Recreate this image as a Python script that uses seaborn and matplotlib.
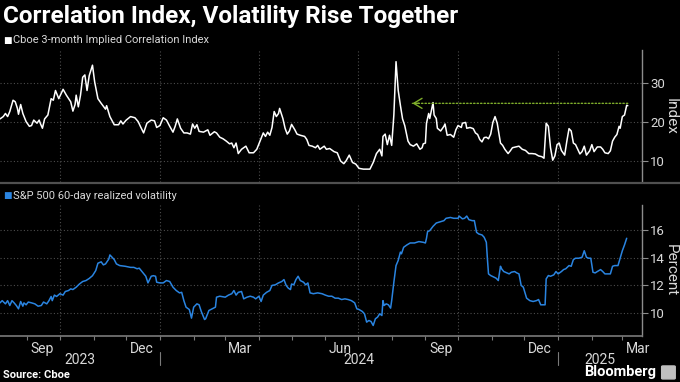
import numpy as np
import pandas as pd
import matplotlib
matplotlib.use("Agg")
import matplotlib.pyplot as plt
import matplotlib.dates as mdates
import matplotlib.transforms as mtrans
from matplotlib.patches import FancyBboxPatch
import seaborn as sns

# Cboe 3-month implied correlation index
corr_dates = [
    "2023-08-07", "2023-08-10", "2023-08-12", "2023-08-14", "2023-08-16", "2023-08-19", "2023-08-21",
    "2023-08-23", "2023-08-24", "2023-08-26", "2023-08-28", "2023-08-31", "2023-09-03", "2023-09-05",
    "2023-09-07", "2023-09-10", "2023-09-12", "2023-09-13", "2023-09-15", "2023-09-17", "2023-09-20",
    "2023-09-23", "2023-09-25", "2023-09-27", "2023-09-30", "2023-10-04", "2023-10-07", "2023-10-11",
    "2023-10-13", "2023-10-15", "2023-10-16", "2023-10-18", "2023-10-20", "2023-10-22", "2023-10-24",
    "2023-10-26", "2023-10-28", "2023-10-31", "2023-11-02", "2023-11-05", "2023-11-08", "2023-11-12",
    "2023-11-13", "2023-11-16", "2023-11-20", "2023-11-24", "2023-11-26", "2023-11-28", "2023-12-01",
    "2023-12-05", "2023-12-09", "2023-12-12", "2023-12-14", "2023-12-17", "2023-12-20", "2023-12-24",
    "2023-12-27", "2023-12-29", "2024-01-01", "2024-01-04", "2024-01-07", "2024-01-10", "2024-01-13",
    "2024-01-15", "2024-01-17", "2024-01-20", "2024-01-23", "2024-01-26", "2024-01-29", "2024-01-31",
    "2024-02-02", "2024-02-04", "2024-02-06", "2024-02-10", "2024-02-14", "2024-02-16", "2024-02-20",
    "2024-02-22", "2024-02-25", "2024-02-28", "2024-03-02", "2024-03-05", "2024-03-07", "2024-03-09",
    "2024-03-11", "2024-03-13", "2024-03-16", "2024-03-20", "2024-03-23", "2024-03-27", "2024-03-30",
    "2024-04-02", "2024-04-05", "2024-04-07", "2024-04-09", "2024-04-11", "2024-04-13", "2024-04-15",
    "2024-04-17", "2024-04-19", "2024-04-20", "2024-04-23", "2024-04-25", "2024-04-27", "2024-04-29",
    "2024-05-01", "2024-05-04", "2024-05-06", "2024-05-09", "2024-05-13", "2024-05-15", "2024-05-17",
    "2024-05-20", "2024-05-23", "2024-05-25", "2024-05-27", "2024-05-31", "2024-06-02", "2024-06-05",
    "2024-06-09", "2024-06-12", "2024-06-15", "2024-06-18", "2024-06-20", "2024-06-23", "2024-06-26",
    "2024-06-29", "2024-07-02", "2024-07-06", "2024-07-09", "2024-07-12", "2024-07-15", "2024-07-18",
    "2024-07-21", "2024-07-23", "2024-07-24", "2024-07-26", "2024-07-28", "2024-07-30", "2024-08-01",
    "2024-08-03", "2024-08-05", "2024-08-07", "2024-08-09", "2024-08-11", "2024-08-13", "2024-08-16",
    "2024-08-18", "2024-08-21", "2024-08-24", "2024-08-27", "2024-08-29", "2024-08-30", "2024-09-01",
    "2024-09-02", "2024-09-04", "2024-09-05", "2024-09-08", "2024-09-09", "2024-09-11", "2024-09-12",
    "2024-09-15", "2024-09-18", "2024-09-19", "2024-09-21", "2024-09-24", "2024-09-27", "2024-09-29",
    "2024-10-01", "2024-10-04", "2024-10-05", "2024-10-08", "2024-10-09", "2024-10-12", "2024-10-15",
    "2024-10-17", "2024-10-19", "2024-10-21", "2024-10-23", "2024-10-25", "2024-10-27", "2024-10-29",
    "2024-10-31", "2024-11-02", "2024-11-04", "2024-11-06", "2024-11-09", "2024-11-11", "2024-11-13",
    "2024-11-16", "2024-11-18", "2024-11-20", "2024-11-23", "2024-11-26", "2024-11-29", "2024-12-02",
    "2024-12-05", "2024-12-08", "2024-12-11", "2024-12-14", "2024-12-17", "2024-12-19", "2024-12-21",
    "2024-12-23", "2024-12-25", "2024-12-27", "2024-12-29", "2024-12-31", "2025-01-02", "2025-01-04",
    "2025-01-07", "2025-01-09", "2025-01-11", "2025-01-13", "2025-01-15", "2025-01-17", "2025-01-19",
    "2025-01-21", "2025-01-23", "2025-01-25", "2025-01-27", "2025-01-30", "2025-02-01", "2025-02-03",
    "2025-02-06", "2025-02-09", "2025-02-11", "2025-02-13", "2025-02-16", "2025-02-18", "2025-02-20",
    "2025-02-22", "2025-02-24", "2025-02-26", "2025-02-27", "2025-03-01", "2025-03-03", "2025-03-05",
    "2025-03-06",
]
corr_values = [
    20.8, 21.4, 22.2, 21.4, 22.7, 25.6, 25.2,
    23.5, 22.0, 24.5, 22.2, 20.1, 18.9, 19.1,
    20.5, 19.7, 20.5, 19.7, 18.4, 20.8, 21.8,
    26.0, 25.6, 28.1, 26.0, 28.4, 26.9, 25.2,
    22.8, 24.5, 26.9, 23.9, 26.9, 31.5, 32.1,
    28.1, 31.9, 34.6, 30.3, 26.0, 24.8, 23.3,
    24.2, 21.4, 19.3, 19.3, 20.3, 19.5, 20.5,
    21.4, 21.1, 20.1, 18.9, 17.2, 19.7, 20.5,
    20.3, 18.6, 19.1, 21.1, 20.5, 18.9, 17.4,
    18.9, 20.8, 18.4, 17.2, 17.2, 16.9, 19.5,
    18.4, 19.3, 17.6, 17.4, 18.0, 16.6, 17.5,
    17.2, 16.1, 15.7, 15.1, 14.4, 14.6, 13.4,
    14.6, 11.9, 13.0, 13.8, 12.1, 12.1, 13.0,
    15.1, 17.2, 16.3, 17.4, 16.6, 18.6, 22.7,
    21.4, 22.2, 23.5, 20.9, 18.4, 16.9, 17.7,
    19.4, 18.0, 16.9, 16.6, 16.3, 15.5, 14.0,
    13.8, 13.4, 14.0, 13.0, 13.8, 13.0, 13.2,
    12.4, 12.1, 10.0, 9.3, 10.0, 11.5, 9.6,
    9.2, 8.1, 7.9, 7.9, 7.9, 9.6, 11.9,
    13.0, 11.3, 16.3, 16.9, 14.2, 16.6, 14.0,
    21.8, 35.5, 28.1, 24.3, 20.8, 19.1, 15.1,
    14.2, 13.8, 14.4, 13.0, 13.4, 14.4, 14.6,
    19.7, 22.2, 20.9, 25.0, 21.8, 20.9, 18.4,
    17.7, 18.9, 19.5, 16.6, 16.8, 16.1, 18.0,
    19.1, 18.6, 19.7, 19.9, 18.4, 18.6, 18.3,
    17.2, 16.8, 15.5, 14.9, 16.0, 16.1, 15.7,
    16.9, 19.9, 21.4, 19.7, 14.6, 14.0, 13.0,
    11.9, 12.6, 13.4, 13.6, 13.8, 13.0, 12.7,
    11.9, 11.9, 11.8, 11.3, 11.1, 10.7, 19.7,
    18.9, 13.4, 10.2, 11.3, 14.2, 14.6, 12.7,
    11.5, 15.1, 18.3, 17.7, 14.6, 14.2, 13.0,
    11.8, 12.4, 13.8, 11.5, 12.6, 14.2, 12.4,
    13.6, 13.6, 13.0, 12.1, 11.9, 12.6, 15.1,
    16.1, 16.8, 18.9, 18.4, 21.4, 21.8, 24.3,
    24.2,
]

# S&P 500 60-day realized volatility, percent
vol_dates = [
    "2023-08-07", "2023-08-09", "2023-08-12", "2023-08-14", "2023-08-16", "2023-08-18", "2023-08-20",
    "2023-08-22", "2023-08-24", "2023-08-26", "2023-08-28", "2023-08-29", "2023-08-31", "2023-09-02",
    "2023-09-05", "2023-09-08", "2023-09-11", "2023-09-14", "2023-09-16", "2023-09-19", "2023-09-21",
    "2023-09-23", "2023-09-24", "2023-09-26", "2023-09-28", "2023-10-01", "2023-10-04", "2023-10-06",
    "2023-10-09", "2023-10-11", "2023-10-13", "2023-10-16", "2023-10-19", "2023-10-22", "2023-10-25",
    "2023-10-28", "2023-10-31", "2023-11-03", "2023-11-05", "2023-11-08", "2023-11-10", "2023-11-12",
    "2023-11-15", "2023-11-16", "2023-11-18", "2023-11-20", "2023-11-22", "2023-11-25", "2023-11-30",
    "2023-12-05", "2023-12-08", "2023-12-11", "2023-12-13", "2023-12-16", "2023-12-19", "2023-12-21",
    "2023-12-24", "2023-12-26", "2023-12-28", "2023-12-29", "2024-01-01", "2024-01-04", "2024-01-07",
    "2024-01-10", "2024-01-13", "2024-01-16", "2024-01-19", "2024-01-21", "2024-01-23", "2024-01-25",
    "2024-01-28", "2024-01-30", "2024-02-01", "2024-02-04", "2024-02-06", "2024-02-08", "2024-02-11",
    "2024-02-12", "2024-02-15", "2024-02-18", "2024-02-21", "2024-02-22", "2024-02-25", "2024-03-01",
    "2024-03-04", "2024-03-07", "2024-03-09", "2024-03-11", "2024-03-13", "2024-03-16", "2024-03-18",
    "2024-03-21", "2024-03-24", "2024-03-27", "2024-03-29", "2024-04-01", "2024-04-03", "2024-04-05",
    "2024-04-08", "2024-04-11", "2024-04-13", "2024-04-16", "2024-04-19", "2024-04-22", "2024-04-24",
    "2024-04-26", "2024-04-28", "2024-04-30", "2024-05-01", "2024-05-03", "2024-05-05", "2024-05-07",
    "2024-05-09", "2024-05-12", "2024-05-14", "2024-05-16", "2024-05-18", "2024-05-21", "2024-05-25",
    "2024-05-29", "2024-06-01", "2024-06-04", "2024-06-07", "2024-06-10", "2024-06-13", "2024-06-16",
    "2024-06-19", "2024-06-22", "2024-06-25", "2024-06-28", "2024-06-30", "2024-07-02", "2024-07-05",
    "2024-07-07", "2024-07-09", "2024-07-11", "2024-07-13", "2024-07-15", "2024-07-17", "2024-07-19",
    "2024-07-21", "2024-07-23", "2024-07-24", "2024-07-25", "2024-07-27", "2024-07-29", "2024-07-31",
    "2024-08-01", "2024-08-03", "2024-08-05", "2024-08-07", "2024-08-09", "2024-08-10", "2024-08-12",
    "2024-08-15", "2024-08-18", "2024-08-22", "2024-08-26", "2024-08-30", "2024-09-01", "2024-09-02",
    "2024-09-03", "2024-09-05", "2024-09-08", "2024-09-11", "2024-09-15", "2024-09-18", "2024-09-20",
    "2024-09-24", "2024-09-27", "2024-10-01", "2024-10-02", "2024-10-05", "2024-10-07", "2024-10-09",
    "2024-10-11", "2024-10-14", "2024-10-16", "2024-10-18", "2024-10-20", "2024-10-23", "2024-10-25",
    "2024-10-27", "2024-10-28", "2024-10-29", "2024-10-31", "2024-11-03", "2024-11-05", "2024-11-07",
    "2024-11-09", "2024-11-10", "2024-11-12", "2024-11-15", "2024-11-17", "2024-11-19", "2024-11-22",
    "2024-11-24", "2024-11-26", "2024-11-28", "2024-11-30", "2024-12-03", "2024-12-06", "2024-12-09",
    "2024-12-12", "2024-12-14", "2024-12-16", "2024-12-18", "2024-12-20", "2024-12-21", "2024-12-23",
    "2024-12-25", "2024-12-28", "2024-12-30", "2025-01-01", "2025-01-04", "2025-01-06", "2025-01-08",
    "2025-01-11", "2025-01-13", "2025-01-15", "2025-01-17", "2025-01-20", "2025-01-23", "2025-01-25",
    "2025-01-27", "2025-01-29", "2025-01-31", "2025-02-02", "2025-02-04", "2025-02-06", "2025-02-09",
    "2025-02-11", "2025-02-13", "2025-02-16", "2025-02-18", "2025-02-20", "2025-02-22", "2025-02-25",
    "2025-02-27", "2025-03-01", "2025-03-03", "2025-03-05",
]
vol_values = [
    10.74, 10.9, 10.67, 10.9, 10.55, 10.9, 10.74,
    10.55, 10.31, 10.84, 10.5, 10.74, 10.6, 10.8,
    10.74, 10.67, 10.5, 10.55, 10.8, 10.67, 10.9,
    11.2, 10.9, 11.3, 11.2, 11.4, 11.3, 11.56,
    11.63, 11.75, 11.7, 11.87, 12.1, 12.28, 12.35,
    12.5, 12.7, 13.07, 13.6, 13.7, 13.48, 13.55,
    13.9, 14.2, 14.03, 13.86, 13.55, 13.43, 13.38,
    13.3, 13.3, 13.2, 13.24, 12.95, 12.66, 12.18,
    12.66, 12.7, 12.66, 12.23, 12.18, 12.18, 12.35,
    12.28, 11.87, 11.63, 11.46, 11.5, 10.9, 10.43,
    10.26, 9.64, 10.43, 10.67, 10.6, 10.12, 9.54,
    9.59, 10.19, 10.31, 10.43, 11.15, 11.22, 11.15,
    11.3, 11.4, 11.63, 11.3, 11.5, 11.56, 11.03,
    11.15, 11.22, 11.15, 11.03, 11.22, 10.84, 11.3,
    11.5, 11.63, 12.0, 12.04, 12.18, 12.28, 12.42,
    12.0, 11.8, 11.7, 12.1, 12.04, 12.42, 12.66,
    12.35, 12.23, 12.04, 12.18, 11.46, 11.4, 11.46,
    11.4, 11.3, 11.22, 11.22, 11.08, 11.08, 10.98,
    11.03, 10.98, 10.9, 10.74, 10.31, 10.26, 10.12,
    9.95, 9.35, 9.47, 9.4, 9.11, 9.59, 9.71,
    9.95, 9.83, 10.9, 10.55, 10.67, 10.6, 10.36,
    10.9, 12.23, 13.43, 13.8, 14.4, 14.28, 14.75,
    14.92, 15.06, 15.06, 15.16, 15.11, 15.06, 15.4,
    15.88, 15.95, 16.26, 16.5, 16.6, 16.67, 16.84,
    16.9, 16.84, 16.84, 17.0, 16.8, 16.84, 17.0,
    16.74, 16.67, 16.67, 15.83, 15.71, 15.64, 15.47,
    15.11, 13.9, 12.83, 12.71, 12.6, 12.52, 12.35,
    13.38, 13.2, 13.0, 12.9, 12.83, 12.95, 13.0,
    12.9, 12.83, 12.0, 11.87, 11.08, 10.9, 10.84,
    10.9, 10.98, 10.6, 10.6, 10.6, 12.47, 12.71,
    12.66, 12.76, 13.0, 12.83, 13.0, 13.14, 13.2,
    13.43, 13.38, 13.86, 13.96, 13.96, 14.03, 14.5,
    14.03, 13.96, 13.96, 12.95, 12.9, 13.0, 13.14,
    13.0, 12.83, 12.83, 12.83, 13.38, 13.43, 13.43,
    13.96, 14.5, 14.92, 15.4,
]

# dotted green arrow: current level back to the last time it was there
arrow_level = 24.8
arrow_start = "2025-03-06"
arrow_end = "2024-08-20"

corr = pd.DataFrame({"date": pd.to_datetime(corr_dates), "value": corr_values})
vol = pd.DataFrame({"date": pd.to_datetime(vol_dates), "value": vol_values})

bg = "black"
grid_col = "#4d4d4d"
tick_col = "#d9d9d9"
spine_col = "#8c8c8c"
blue = "#2a84e0"
green = "#7fae2b"

sns.set_theme(style="dark", rc={"axes.facecolor": bg, "figure.facecolor": bg,
                                "text.color": "white", "axes.labelcolor": tick_col,
                                "xtick.color": tick_col, "ytick.color": tick_col})
plt.rcParams["font.family"] = ["Roboto", "DejaVu Sans"]

fig = plt.figure(figsize=(6.8, 3.82), dpi=100)
ax1 = fig.add_axes([0, 0.5236, 0.944, 0.3455])
ax2 = fig.add_axes([0, 0.1204, 0.944, 0.343])

sns.lineplot(data=corr, x="date", y="value", ax=ax1, color="white", lw=1.1)
sns.lineplot(data=vol, x="date", y="value", ax=ax2, color=blue, lw=1.1)

xmin, xmax = pd.Timestamp("2023-08-07"), pd.Timestamp("2025-03-19")
quarter_lines = pd.date_range("2023-10-01", "2025-01-01", freq="QS")

for ax in (ax1, ax2):
    ax.set_xlim(xmin, xmax)
    ax.set_xlabel("")
    ax.yaxis.tick_right()
    ax.yaxis.set_label_position("right")
    ax.spines["top"].set_visible(False)
    ax.spines["left"].set_visible(False)
    ax.spines["right"].set_visible(True)
    ax.spines["right"].set_color(spine_col)
    ax.spines["right"].set_linewidth(1.0)
    ax.grid(True, axis="y", color=grid_col, ls=(0, (1, 2)), lw=0.8)
    ax.grid(False, axis="x")
    for q in quarter_lines:
        ax.axvline(q, color=grid_col, ls=(0, (1, 2)), lw=0.8, zorder=0)
    ax.tick_params(axis="y", which="both", right=True, length=4, width=0.8,
                   color=spine_col, labelsize=9.5, pad=2, labelcolor=tick_col)

ax1.set_ylim(4.6, 38.5)
ax1.set_yticks([10, 20, 30])
ax1.set_ylabel("Index", rotation=270, fontsize=11, labelpad=9)
ax1.spines["bottom"].set_visible(False)
ax1.tick_params(axis="x", bottom=False, labelbottom=False)

ax2.set_ylim(8.35, 17.8)
ax2.set_yticks([10, 12, 14, 16])
ax2.set_ylabel("Percent", rotation=270, fontsize=11, labelpad=9)
ax2.spines["bottom"].set_visible(True)
ax2.spines["bottom"].set_color("#7a7a7a")
ax2.spines["bottom"].set_linewidth(1.2)

# month ticks at month starts, quarter labels mid-month
ax2.xaxis.set_minor_locator(mdates.MonthLocator())
ax2.xaxis.set_major_locator(mdates.MonthLocator(bymonth=[3, 6, 9, 12], bymonthday=15))
ax2.xaxis.set_major_formatter(mdates.DateFormatter("%b"))
ax2.tick_params(axis="x", which="minor", bottom=True, length=3, color="#7a7a7a", width=0.8)
ax2.tick_params(axis="x", which="major", bottom=True, length=0, labelsize=10, pad=4,
                labelcolor=tick_col)

# year labels and separators
trans = mtrans.blended_transform_factory(ax2.transData, ax2.transAxes)
year_bounds = [xmin, pd.Timestamp("2024-01-01"), pd.Timestamp("2025-01-01"), xmax]
for lo, hi, yr in zip(year_bounds[:-1], year_bounds[1:], ["2023", "2024", "2025"]):
    ax2.text(lo + (hi - lo) / 2, -0.18, yr, transform=trans, ha="center", va="center",
             fontsize=10, color=tick_col)
for sep in year_bounds[1:3]:
    ax2.plot([sep, sep], [-0.12, -0.225], transform=trans, color="#7a7a7a", lw=0.8,
             clip_on=False)

# dotted shaft plus a solid open chevron head
ax1.annotate("", xy=(pd.Timestamp(arrow_end), arrow_level),
             xytext=(pd.Timestamp(arrow_start), arrow_level),
             arrowprops=dict(arrowstyle="-", color=green, lw=1.0, ls=(0, (1, 1.5)),
                             shrinkA=0, shrinkB=0))
ax1.annotate("", xy=(pd.Timestamp(arrow_end), arrow_level),
             xytext=(pd.Timestamp(arrow_end) + pd.Timedelta(days=6), arrow_level),
             arrowprops=dict(arrowstyle="->,head_length=0.5,head_width=0.3", color=green,
                             lw=1.0, shrinkA=0, shrinkB=0, mutation_scale=12))

# separator between panels
fig.add_artist(plt.Line2D([0, 1], [1 - 183 / 382] * 2, color="#505050", lw=1.6))

fig.text(0.004, 0.958, "Correlation Index, Volatility Rise Together", fontsize=17.5,
         fontweight="bold", color="white", va="center", ha="left")
fig.text(0.004, 0.894, "\u25a0", fontsize=6.5, color="white", va="center", ha="left",
         family="DejaVu Sans")
fig.text(0.019, 0.894, "Cboe 3-month Implied Correlation Index", fontsize=8,
         color=tick_col, va="center", ha="left")
fig.text(0.004, 0.488, "\u25a0", fontsize=6.5, color=blue, va="center", ha="left",
         family="DejaVu Sans")
fig.text(0.019, 0.488, "S&P 500 60-day realized volatility", fontsize=8,
         color=tick_col, va="center", ha="left")
fig.text(0.005, 0.018, "Source: Cboe", fontsize=8, fontweight="bold", color="white",
         va="center", ha="left")
fig.text(0.965, 0.026, "Bloomberg", fontsize=10.5, fontweight="bold", color="white",
         va="center", ha="right")
fig.add_artist(FancyBboxPatch((0.975, 0.01), 0.016, 0.03, boxstyle="round,pad=0.002",
                              transform=fig.transFigure, color="#bfbfbf"))

fig.savefig("out.png", dpi=100, facecolor=bg)
